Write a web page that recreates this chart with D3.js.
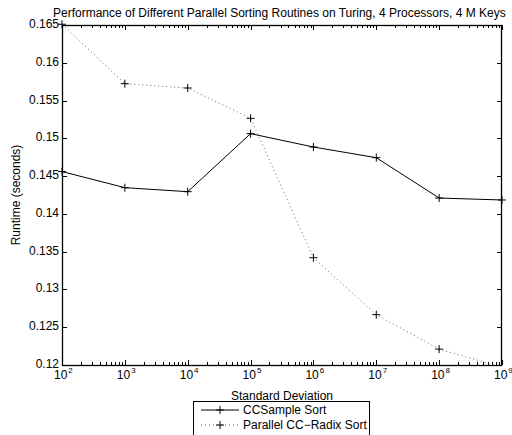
<!DOCTYPE html>
<html>
<head>
<meta charset="utf-8">
<script src="https://cdn.jsdelivr.net/npm/d3@7"></script>
<style>
  body { margin: 0; background: #fff; }
  text { font-family: "Liberation Sans", Arial, sans-serif; fill: #000; }
</style>
</head>
<body>
<svg width="512" height="435"></svg>
<script>
"use strict";

// Data.

var stdDevs = [1e2, 1e3, 1e4, 1e5, 1e6, 1e7, 1e8, 1e9];
var sampleSort = [0.1456, 0.14347, 0.14294, 0.15062, 0.14885, 0.14744, 0.1421, 0.14184];
var radixSort = [0.1651, 0.15723, 0.15666, 0.15265, 0.1342, 0.12666, 0.1221, 0.1197];
var seriesNames = ["CCSample Sort", "Parallel CC\u2212Radix Sort"];
var yTicks = [0.12, 0.125, 0.13, 0.135, 0.14, 0.145, 0.15, 0.155, 0.16, 0.165];
var xExps = [2, 3, 4, 5, 6, 7, 8, 9];

var titleText = "Performance of Different Parallel Sorting Routines on Turing, 4 Processors, 4 M Keys";

// SVG and layout.

var svg = d3.select("svg");
var Left = 62, Right = 502, Top = 25, Bottom = 365;
var FontSize = 12;

var x = d3.scaleLog().domain([1e2, 1e9]).range([Left, Right]);
var y = d3.scaleLinear().domain([0.12, 0.165]).range([Bottom, Top]);

var MajorTick = 5, MinorTick = 3;
var DotColor = "#666";

// Clip for the lines.
svg.append("clipPath").attr("id", "plot")
  .append("rect")
    .attr("x", Left).attr("y", Top)
    .attr("width", Right - Left).attr("height", Bottom - Top);

// Minor log ticks along bottom and top.
var minors = [];
for (var e = 2; e < 9; e++){
    for (var m = 2; m <= 9; m++) minors.push(m*Math.pow(10, e));
}

var ticks = svg.append("g").attr("stroke", "#000").attr("stroke-width", 1);

minors.forEach(function(v){
    var px = Math.round(x(v)) + 0.5;
    ticks.append("line").attr("x1", px).attr("x2", px).attr("y1", Bottom).attr("y2", Bottom - MinorTick);
    ticks.append("line").attr("x1", px).attr("x2", px).attr("y1", Top).attr("y2", Top + MinorTick);
});

xExps.forEach(function(e){
    var px = Math.round(x(Math.pow(10, e))) + 0.5;
    ticks.append("line").attr("x1", px).attr("x2", px).attr("y1", Bottom).attr("y2", Bottom - MajorTick);
    ticks.append("line").attr("x1", px).attr("x2", px).attr("y1", Top).attr("y2", Top + MajorTick);
});

yTicks.forEach(function(v){
    var py = Math.round(y(v)) + 0.5;
    ticks.append("line").attr("x1", Left).attr("x2", Left + MajorTick).attr("y1", py).attr("y2", py);
    ticks.append("line").attr("x1", Right).attr("x2", Right - MajorTick).attr("y1", py).attr("y2", py);
});

// Frame.
svg.append("rect")
    .attr("x", Left + 0.5).attr("y", Top + 0.5)
    .attr("width", Right - Left - 1).attr("height", Bottom - Top)
    .attr("fill", "none").attr("stroke", "#000").attr("stroke-width", 1.3);

// Y tick labels.
svg.append("g").selectAll("text")
  .data(yTicks)
  .enter().append("text")
    .attr("x", Left - 3)
    .attr("y", function(d){ return y(d) + 3; })
    .attr("text-anchor", "end")
    .attr("font-size", FontSize)
    .text(function(d){ return d3.format("")(+d.toFixed(3)); });

// X tick labels, 10 with a raised exponent.
var xl = svg.append("g").selectAll("text")
  .data(xExps)
  .enter().append("text")
    .attr("x", function(d){ return x(Math.pow(10, d)) - 8; })
    .attr("y", 379)
    .attr("font-size", FontSize);
xl.append("tspan").text("10");
xl.append("tspan").attr("font-size", 8).attr("dx", 1).attr("dy", -6)
    .text(function(d){ return d; });

// Axis titles.
svg.append("text")
    .attr("x", (Left + Right)/2).attr("y", 400)
    .attr("text-anchor", "middle").attr("font-size", FontSize)
    .text("Standard Deviation");

svg.append("text")
    .attr("transform", "translate(20," + (Top + Bottom)/2 + ") rotate(-90)")
    .attr("text-anchor", "middle").attr("font-size", FontSize)
    .text("Runtime (seconds)");

svg.append("text")
    .attr("x", 53).attr("y", 17)
    .attr("font-size", 12)
    .text(titleText);

// Series.
var pts = function(vals){
    return stdDevs.map(function(s, i){ return [x(s), y(vals[i])]; });
};

var plot = svg.append("g").attr("clip-path", "url(#plot)");

plot.append("path")
    .attr("d", d3.line()(pts(radixSort)))
    .attr("fill", "none").attr("stroke", DotColor)
    .attr("stroke-width", 1).attr("stroke-dasharray", "1,3");

plot.append("path")
    .attr("d", d3.line()(pts(sampleSort)))
    .attr("fill", "none").attr("stroke", "#000").attr("stroke-width", 1);

var Cross = 4;
var drawCross = function(g, px, py){
    g.append("line").attr("x1", px - Cross).attr("x2", px + Cross).attr("y1", py).attr("y2", py);
    g.append("line").attr("x1", px).attr("x2", px).attr("y1", py - Cross).attr("y2", py + Cross);
};

var markers = svg.append("g").attr("stroke", "#000").attr("stroke-width", 1);
pts(sampleSort).concat(pts(radixSort)).forEach(function(p){
    if (p[1] >= Top - 1 && p[1] <= Bottom + 1) drawCross(markers, p[0], p[1]);
});

// Legend.
var lg = svg.append("g");
lg.append("rect")
    .attr("x", 193.5).attr("y", 401.5).attr("width", 176).attr("height", 40)
    .attr("fill", "#fff").attr("stroke", "#000").attr("stroke-width", 1);

seriesNames.forEach(function(name, i){
    var ly = 410 + i*15;
    lg.append("line")
        .attr("x1", 201).attr("x2", 239).attr("y1", ly).attr("y2", ly)
        .attr("stroke", i === 0 ? "#000" : DotColor)
        .attr("stroke-dasharray", i === 0 ? null : "1,3");
    var m = lg.append("g").attr("stroke", "#000");
    drawCross(m, 220, ly);
    lg.append("text").attr("x", 243).attr("y", ly + 4).attr("font-size", FontSize).text(name);
});
</script>
</body>
</html>
